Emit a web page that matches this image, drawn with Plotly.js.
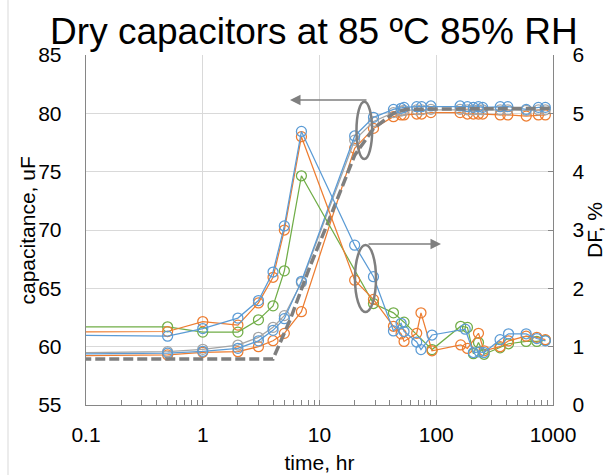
<!DOCTYPE html>
<html><head><meta charset="utf-8">
<script src="https://cdn.plot.ly/plotly-3.0.1.min.js"></script>
<style>html,body{margin:0;padding:0;background:#fff;} #chart{width:606px;height:475px;}</style>
</head><body><div id="chart"></div>
<script>
// ---- capacitance, uF (left axis) ----
const capTime   = [0.01, 0.5, 1, 2, 3, 4, 5, 7, 20, 29, 43, 50, 53, 68, 75, 90, 160, 185, 208, 230, 250, 353, 410, 590, 750, 860];
const capGrey   = [59.35, 59.57, 59.77, 60.14, 60.8, 61.66, 62.66, 65.5, 77.7, 79.3, 80.06, 80.2, 80.25, 80.3, 80.3, 80.35, 80.35, 80.3, 80.3, 80.3, 80.3, 80.3, 80.3, 80.25, 80.3, 80.3];
const capBlue   = [59.3, 59.45, 59.6, 59.86, 60.5, 61.4, 62.4, 65.6, 78.06, 79.66, 80.34, 80.43, 80.51, 80.57, 80.57, 80.63, 80.63, 80.57, 80.51, 80.57, 80.51, 80.57, 80.57, 80.34, 80.51, 80.51];
const capOrange = [59.15, 59.29, 59.52, 59.57, 60.0, 60.51, 61.14, 63.0, 77.0, 78.71, 79.71, 79.86, 79.86, 79.94, 79.94, 80.06, 80.06, 79.94, 79.94, 79.94, 79.94, 79.86, 79.86, 79.77, 79.86, 79.86];
// model (dashed)
const modelTime = [0.01, 4, 5.6, 8.3, 12, 20, 29, 43, 55, 1000];
const modelCap  = [58.95, 58.95, 62.3, 66.9, 70.8, 76.4, 78.7, 80.0, 80.35, 80.43];

// ---- DF, % (right axis) ----
const dfTimeBlue   = [0.01, 0.5, 1, 2, 3, 4, 5, 7, 20, 29, 43, 50, 53, 68, 74, 92, 177, 208, 234, 257, 352, 416, 589, 727, 860];
const dfBlue       = [1.21, 1.18, 1.31, 1.49, 1.79, 2.28, 3.07, 4.69, 2.74, 2.2, 1.27, 1.4, 1.26, 1.08, 0.95, 1.2, 1.3, 0.9, 0.91, 0.9, 1.12, 1.22, 1.22, 1.14, 1.1];
const dfTimeOrange = [0.01, 0.5, 1, 2, 3, 4, 5, 7, 20, 29, 43, 50, 53, 68, 74, 92, 162, 185, 230, 257, 352, 416, 589, 727, 860];
const dfOrange     = [1.24, 1.26, 1.43, 1.37, 1.75, 2.19, 3.0, 4.6, 2.14, 1.81, 1.35, 1.22, 1.09, 1.23, 1.58, 0.93, 1.03, 0.97, 1.23, 0.93, 1.0, 1.1, 1.18, 1.16, 1.12];
const dfTimeGreen  = [0.01, 0.5, 1, 2, 3, 4, 5, 7, 29, 43, 53, 92, 162, 185, 208, 230, 257, 352, 416, 589, 727, 860];
const dfGreen      = [1.34, 1.34, 1.25, 1.25, 1.46, 1.7, 2.3, 3.93, 1.74, 1.58, 1.42, 0.95, 1.35, 1.33, 0.88, 1.07, 0.87, 0.98, 1.05, 1.09, 1.09, 1.11];

// ---- axis ticks ----
const xTickVals = [0.1, 1, 10, 100, 1000];
const xTickText = ['0.1', '1', '10', '100', '1000'];

const BLUE = '#5B9BD5', ORANGE = '#ED7D31', GREY = '#A5A5A5', GREEN = '#70AD47', DARK = '#7F7F7F';

function series(x, y, color, axis) {
  return {
    x: x, y: y, yaxis: axis, type: 'scatter', mode: 'lines+markers',
    line: {color: color, width: 1.25},
    marker: {symbol: 'circle-open', size: 10, color: color, line: {color: color, width: 1.25}},
    hoverinfo: 'x+y'
  };
}

const traces = [
  series(dfTimeGreen, dfGreen, GREEN, 'y2'),
  series(dfTimeOrange, dfOrange, ORANGE, 'y2'),
  series(dfTimeBlue, dfBlue, BLUE, 'y2'),
  series(capTime, capOrange, ORANGE, 'y'),
  series(capTime, capGrey, GREY, 'y'),
  series(capTime, capBlue, BLUE, 'y'),
  {x: modelTime, y: modelCap, yaxis: 'y', type: 'scatter', mode: 'lines',
   line: {color: DARK, width: 3.5, dash: '10px,4px'}}
];

// minor tick positions (2..9 in each decade)
const minorVals = [];
[0.1, 1, 10, 100].forEach(d => { for (let k = 2; k <= 9; k++) minorVals.push(d * k); });

const FONT = 'Liberation Sans, Arial, sans-serif';
const layout = {
  width: 606, height: 475,
  margin: {l: 86, r: 53, t: 55, b: 70},
  paper_bgcolor: '#fff', plot_bgcolor: '#fff',
  showlegend: false,
  font: {family: FONT, size: 21, color: '#000'},
  title: {text: 'Dry capacitors at 85 ºC 85% RH', font: {family: FONT, size: 37, color: '#000'},
          x: 0.518, xref: 'container', xanchor: 'center', y: 0.935, yref: 'container', yanchor: 'middle'},
  xaxis: {
    type: 'log', range: [-1, 3], tickmode: 'array', tickvals: xTickVals, ticktext: xTickText,
    showgrid: true, gridcolor: '#D9D9D9', gridwidth: 1,
    showline: true, linecolor: '#868686', linewidth: 1.3,
    ticks: 'inside', ticklen: 5, tickcolor: '#868686',
    minor: {tickvals: minorVals, ticks: 'inside', ticklen: 5, tickcolor: '#868686', showgrid: false},
    ticklabelstandoff: 10,
    tickfont: {size: 21},
    title: {text: 'time, hr', font: {size: 21}, standoff: 10},
    zeroline: false
  },
  yaxis: {
    range: [55, 85], dtick: 5, tick0: 55,
    showgrid: true, gridcolor: '#D9D9D9', gridwidth: 1,
    showline: true, linecolor: '#868686', linewidth: 1.3,
    ticks: '', ticklabelstandoff: 19,
    tickfont: {size: 21},
    zeroline: false
  },
  yaxis2: {
    overlaying: 'y', side: 'right', range: [0, 6], dtick: 1, tick0: 0,
    showgrid: false, showline: true, linecolor: '#868686', linewidth: 1.3,
    ticks: 'inside', ticklen: 5, tickcolor: '#868686',
    ticklabelstandoff: 14,
    tickfont: {size: 21},
    title: {text: 'DF, %', font: {size: 21}, standoff: 17},
    zeroline: false
  },
  shapes: [
    {type: 'circle', xref: 'paper', yref: 'paper', x0: 0.5792, x1: 0.6128, y0: 0.7029, y1: 0.8666,
     line: {color: DARK, width: 2.5}, fillcolor: 'rgba(0,0,0,0)'},
    {type: 'circle', xref: 'paper', yref: 'paper', x0: 0.576, x1: 0.621, y0: 0.2657, y1: 0.4571,
     line: {color: DARK, width: 2.5}, fillcolor: 'rgba(0,0,0,0)'},
    {type: 'line', xref: 'paper', yref: 'paper', x0: -0.167, x1: -0.167, y0: -0.2, y1: 1.157,
     line: {color: '#D9D9D9', width: 1}}
  ],
  annotations: [
    // left axis title
    {text: 'capacitance, uF', xref: 'paper', yref: 'paper', x: -0.1253, y: 0.5,
     xanchor: 'center', yanchor: 'middle', textangle: -90, showarrow: false,
     font: {family: FONT, size: 21, color: '#000'}},
    {x: 0.4368, y: 0.8714, xref: 'paper', yref: 'paper', text: '', showarrow: true,
     ax: 78, ay: 0, axref: 'pixel', ayref: 'pixel', arrowhead: 2, arrowsize: 1.4, arrowwidth: 1.5,
     arrowcolor: DARK, standoff: 0, startstandoff: 0},
    {x: 0.7602, y: 0.46, xref: 'paper', yref: 'paper', text: '', showarrow: true,
     ax: -74, ay: 0, axref: 'pixel', ayref: 'pixel', arrowhead: 2, arrowsize: 1.4, arrowwidth: 1.5,
     arrowcolor: DARK, standoff: 0, startstandoff: 0}
  ]
};

Plotly.newPlot('chart', traces, layout, {staticPlot: true, displayModeBar: false});
</script>
</body></html>
